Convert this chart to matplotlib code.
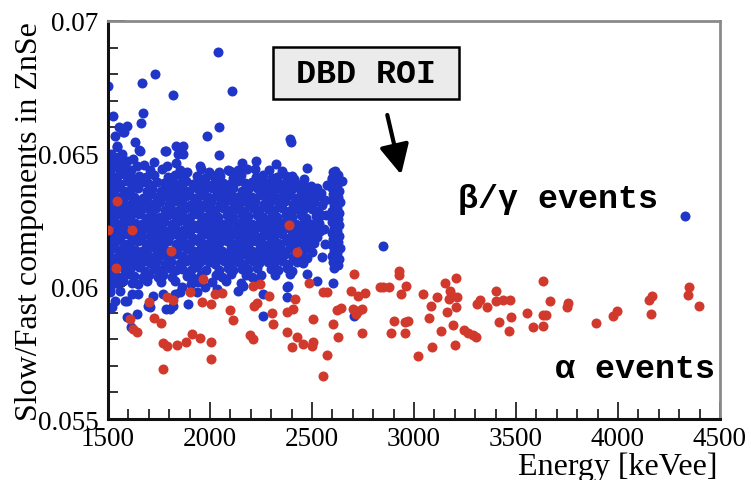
""" Pulse-shape discrimination in ZnSe: slow/fast ratio vs energy. """

import matplotlib
matplotlib.use('Agg')
import matplotlib.pyplot as plt
from matplotlib.patches import Rectangle
from matplotlib.ticker import MultipleLocator, FixedLocator, FixedFormatter

# ---- data: (energy [keVee], slow/fast ratio) ----

# beta/gamma band, sparse upper fringe and stragglers
blue_upper = [
    (2041, .06884), (1730, .06800), (1665, .06765), (1502, .06756), (1820, .06721),
    (2106, .06737), (1523, .06643), (1670, .06652), (1660, .06615), (1555, .06599),
    (1595, .06603), (1578, .06580), (1534, .06568), (2046, .06599), (1984, .06568),
    (1546, .06530), (1632, .06545), (1784, .06511), (1833, .06530), (1866, .06530),
    (1866, .06499), (2046, .06495), (2392, .06555), (2396, .06543), (1652, .06514),
    (1725, .06467), (1676, .06457), (1951, .06455), (2155, .06465), (2225, .06473),
    (2220, .06442), (2324, .06461), (2131, .06430), (2400, .06417), (2461, .06404),
    (1886, .06430), (1996, .06430), (2046, .06430), (2090, .06440), (2139, .06440),
    (2531, .06357), (1575, .06580), (1543, .06524), (1657, .06511), (1779, .06511),
    (1845, .06499), (1788, .06452), (1833, .06465), (2474, .06445), (2302, .06407),
    (1518, .06492), (1526, .06461), (1567, .06499), (1592, .06473), (1624, .06480),
    (1510, .06430), (1506, .06472), (1530, .06468), (1514, .06500), (1547, .06485),
    (1562, .06460), (1585, .06455),
]

# beta/gamma band, dense core (row by row, top to bottom)
blue_core = [
    (1504, .06446), (1531, .06452), (1552, .06441), (1578, .06449), (1611, .06438),
    (1640, .06455), (1706, .06440), (1763, .06444), (1852, .06437), (1958, .06442),
    (2098, .06436), (2183, .06441), (2288, .06437), (2352, .06434),

    (1510, .06418), (1546, .06411), (1580, .06422), (1617, .06409), (1652, .06417),
    (1688, .06413), (1725, .06420), (1794, .06412), (1830, .06419), (1869, .06408),
    (1935, .06416), (1975, .06410), (2012, .06421), (2048, .06414), (2115, .06409),
    (2150, .06418), (2226, .06412), (2262, .06420), (2330, .06411), (2372, .06416),
    (2410, .06406),

    (1521, .06394), (1561, .06386), (1594, .06397), (1632, .06388), (1667, .06392),
    (1700, .06384), (1740, .06395), (1774, .06389), (1813, .06393), (1846, .06385),
    (1884, .06396), (1919, .06387), (1953, .06391), (1993, .06383), (2026, .06394),
    (2064, .06390), (2097, .06386), (2137, .06397), (2170, .06388), (2206, .06393),
    (2245, .06385), (2277, .06391), (2316, .06396), (2350, .06387), (2387, .06392),
    (2424, .06384), (2458, .06390), (2497, .06379), (2527, .06372),

    (1508, .06362), (1539, .06369), (1579, .06360), (1615, .06367), (1646, .06371),
    (1689, .06361), (1718, .06366), (1760, .06358), (1795, .06370), (1826, .06363),
    (1868, .06367), (1899, .06359), (1940, .06368), (1971, .06362), (2012, .06370),
    (2043, .06364), (2084, .06359), (2115, .06369), (2156, .06361), (2187, .06366),
    (2228, .06371), (2259, .06360), (2300, .06365), (2331, .06369), (2372, .06362),
    (2403, .06367), (2444, .06358), (2475, .06364), (2516, .06360), (2545, .06352),

    (1526, .06343), (1557, .06336), (1598, .06345), (1629, .06338), (1670, .06334),
    (1703, .06344), (1739, .06337), (1777, .06342), (1810, .06335), (1850, .06346),
    (1881, .06339), (1922, .06333), (1955, .06343), (1991, .06337), (2029, .06341),
    (2062, .06334), (2101, .06345), (2135, .06338), (2173, .06342), (2204, .06335),
    (2247, .06344), (2280, .06336), (2314, .06341), (2353, .06339), (2385, .06346),
    (2421, .06333), (2460, .06342), (2494, .06336), (2533, .06340),

    (1503, .06318), (1543, .06311), (1575, .06320), (1616, .06313), (1648, .06309),
    (1687, .06319), (1723, .06312), (1755, .06317), (1797, .06310), (1830, .06321),
    (1863, .06314), (1903, .06308), (1935, .06318), (1975, .06312), (2007, .06316),
    (2047, .06310), (2080, .06320), (2119, .06313), (2151, .06317), (2190, .06309),
    (2223, .06319), (2264, .06311), (2295, .06316), (2336, .06313), (2367, .06320),
    (2407, .06309), (2440, .06317), (2478, .06312), (2512, .06318), (2548, .06306),

    (1520, .06293), (1562, .06287), (1592, .06296), (1634, .06285), (1665, .06291),
    (1705, .06288), (1737, .06295), (1779, .06286), (1808, .06292), (1848, .06289),
    (1883, .06297), (1924, .06284), (1952, .06290), (1995, .06293), (2024, .06286),
    (2066, .06295), (2099, .06288), (2138, .06291), (2168, .06285), (2211, .06294),
    (2242, .06287), (2282, .06292), (2313, .06289), (2355, .06296), (2386, .06284),
    (2426, .06291), (2457, .06287), (2499, .06293), (2529, .06285),

    (1506, .06262), (1538, .06269), (1580, .06260), (1611, .06267), (1651, .06271),
    (1684, .06259), (1722, .06266), (1756, .06262), (1794, .06270), (1832, .06261),
    (1864, .06267), (1904, .06263), (1936, .06271), (1977, .06260), (2010, .06266),
    (2041, .06262), (2085, .06269), (2113, .06261), (2157, .06267), (2188, .06264),
    (2229, .06270), (2258, .06260), (2302, .06266), (2330, .06263), (2374, .06269),
    (2402, .06261), (2446, .06267), (2473, .06259), (2518, .06264), (2544, .06268),

    (1524, .06243), (1556, .06236), (1597, .06245), (1630, .06238), (1668, .06234),
    (1702, .06244), (1741, .06237), (1775, .06241), (1812, .06235), (1847, .06246),
    (1885, .06239), (1920, .06233), (1956, .06243), (1990, .06236), (2028, .06241),
    (2065, .06234), (2100, .06245), (2134, .06238), (2172, .06242), (2208, .06235),
    (2243, .06244), (2279, .06237), (2317, .06241), (2352, .06239), (2389, .06245),
    (2422, .06234), (2461, .06242), (2493, .06236), (2532, .06240),

    (1502, .06218), (1542, .06211), (1576, .06220), (1614, .06213), (1650, .06209),
    (1688, .06219), (1720, .06212), (1758, .06217), (1796, .06210), (1828, .06221),
    (1866, .06214), (1900, .06208), (1938, .06218), (1972, .06212), (2011, .06216),
    (2046, .06210), (2082, .06220), (2118, .06213), (2154, .06217), (2186, .06209),
    (2227, .06219), (2263, .06211), (2298, .06216), (2334, .06213), (2370, .06220),
    (2404, .06209), (2443, .06217), (2476, .06212), (2514, .06218), (2541, .06210),

    (1522, .06193), (1560, .06187), (1595, .06196), (1633, .06185), (1666, .06191),
    (1704, .06188), (1738, .06195), (1776, .06186), (1811, .06192), (1849, .06189),
    (1882, .06197), (1918, .06184), (1954, .06190), (1994, .06193), (2027, .06186),
    (2063, .06195), (2098, .06188), (2136, .06191), (2171, .06185), (2209, .06194),
    (2244, .06187), (2281, .06192), (2315, .06189), (2351, .06196), (2388, .06184),
    (2425, .06191), (2459, .06187), (2496, .06193), (2526, .06186),

    (1507, .06162), (1540, .06169), (1578, .06160), (1612, .06167), (1649, .06171),
    (1686, .06159), (1724, .06166), (1757, .06162), (1793, .06170), (1831, .06161),
    (1867, .06167), (1902, .06163), (1939, .06171), (1974, .06160), (2008, .06166),
    (2044, .06162), (2083, .06169), (2116, .06161), (2155, .06167), (2189, .06164),
    (2226, .06170), (2260, .06160), (2299, .06166), (2332, .06163), (2371, .06169),
    (2406, .06161), (2442, .06167), (2479, .06159), (2511, .06165),

    (1525, .06143), (1558, .06136), (1596, .06145), (1631, .06138), (1669, .06134),
    (1701, .06144), (1742, .06137), (1773, .06141), (1814, .06135), (1845, .06146),
    (1886, .06139), (1921, .06133), (1957, .06143), (1992, .06136), (2030, .06141),
    (2061, .06134), (2102, .06145), (2133, .06138), (2174, .06142), (2207, .06135),
    (2246, .06144), (2278, .06137), (2318, .06141), (2349, .06139), (2390, .06145),
    (2423, .06134), (2462, .06142), (2498, .06131),

    (1504, .06118), (1543, .06111), (1577, .06120), (1613, .06113), (1651, .06109),
    (1685, .06119), (1723, .06112), (1759, .06117), (1795, .06110), (1829, .06121),
    (1865, .06114), (1901, .06108), (1937, .06118), (1973, .06112), (2009, .06116),
    (2048, .06110), (2081, .06120), (2117, .06113), (2153, .06117), (2190, .06109),
    (2225, .06119), (2262, .06111), (2297, .06116), (2335, .06113), (2368, .06120),
    (2408, .06109), (2441, .06117), (2474, .06108),

    (1521, .06093), (1559, .06087), (1593, .06096), (1632, .06085), (1667, .06091),
    (1706, .06088), (1739, .06095), (1778, .06086), (1809, .06092), (1851, .06089),
    (1880, .06097), (1923, .06084), (1953, .06090), (1996, .06093), (2025, .06086),
    (2067, .06095), (2097, .06088), (2139, .06091), (2169, .06085), (2210, .06094),
    (2241, .06087), (2283, .06092), (2312, .06089), (2354, .06096), (2384, .06084),
    (2428, .06091), (2455, .06087),

    (1505, .06062), (1539, .06069), (1581, .06060), (1610, .06067), (1652, .06071),
    (1683, .06059), (1725, .06066), (1755, .06062), (1797, .06070), (1833, .06061),
    (1862, .06067), (1906, .06063), (1934, .06071), (1978, .06060), (2043, .06062),
    (2086, .06069), (2112, .06061), (2158, .06067), (2185, .06064), (2231, .06070),
    (2300, .06066), (2333, .06063), (2376, .06069), (2401, .06058),

    (1523, .06043), (1557, .06036), (1599, .06045), (1628, .06038), (1670, .06034),
    (1700, .06044), (1744, .06037), (1772, .06041), (1815, .06035), (1887, .06039),
    (1919, .06033), (1958, .06043), (2031, .06041), (2060, .06034), (2104, .06045),
    (2175, .06042), (2206, .06035), (2248, .06044), (2320, .06041), (2391, .06045),

    (1503, .06018), (1540, .06011), (1574, .06020), (1617, .06013), (1646, .06009),
    (1690, .06019), (1760, .06017), (1830, .06021), (1905, .06008), (1940, .06018),
    (2012, .06016), (2080, .06020), (2150, .06012), (2230, .06019), (2380, .06002),
]

# 2615 keV gamma line (208Tl) and points near it
blue_line = [
    (2612, .06436), (2645, .06398), (2596, .06404),
    (2603, .06432), (2626, .06421), (2598, .06410), (2631, .06402), (2606, .06391),
    (2624, .06380), (2597, .06369), (2633, .06360), (2604, .06349), (2628, .06338),
    (2600, .06327), (2635, .06318), (2607, .06306), (2622, .06296), (2596, .06285),
    (2630, .06275), (2605, .06264), (2627, .06253), (2599, .06242), (2634, .06232),
    (2608, .06221), (2621, .06210), (2597, .06200), (2632, .06189), (2603, .06178),
    (2629, .06168), (2600, .06157), (2636, .06146), (2606, .06135), (2623, .06124),
    (2598, .06114), (2631, .06103), (2604, .06092), (2627, .06081), (2610, .06070),
    (2565, .06325), (2570, .06270), (2558, .06215), (2575, .06380), (2562, .06160),
    (2548, .06110), (2604, .06012),
]

# beta/gamma events leaking below the band, plus high-energy strays
blue_lower = [
    (1510, .05977), (1502, .05914), (1534, .05946), (1559, .05983), (1592, .05946),
    (1616, .05971), (1592, .05883), (1611, .05845), (1641, .05895), (1649, .05971),
    (1698, .05927), (1722, .05964), (1771, .05971), (1804, .05914), (1784, .05914),
    (1828, .05971), (1861, .05996), (1935, .05977), (1975, .05996), (2036, .05990),
    (2139, .05983), (2163, .06002), (2261, .05889), (2261, .05971), (2376, .05996),
    (2379, .05958), (2474, .06046), (2523, .06021), (2706, .05887), (1518, .05921),
    (1583, .05946), (1706, .05921), (1820, .05927), (1894, .05933), (1853, .05977),
    (1510, .05990), (2848, .06152), (4328, .06265),
]

# alpha events
red_alpha = [
    (1546, .06320), (1502, .06212), (1616, .06212), (2389, .06231), (1809, .06134),
    (2425, .06130), (1539, .06068), (1964, .06027),
    (1703, .05942), (1788, .05958), (1820, .05949), (1902, .05977), (1959, .05942),
    (2003, .05933), (2025, .05971), (2057, .05975), (2098, .05912), (2114, .05874),
    (2216, .05927), (2229, .05939), (2212, .06000), (2245, .06008), (2291, .05964),
    (2302, .05899), (2307, .05858), (2196, .05816), (2209, .05801), (2379, .05902),
    (2408, .05914), (2417, .05952), (2379, .05829), (2428, .05808), (2400, .05770),
    (2457, .05782), (2498, .05774), (2506, .05789), (2506, .05877), (2487, .06012),
    (2572, .05741), (2555, .05663), (2552, .05977), (2575, .05977), (2601, .05858),
    (2624, .05911), (2640, .05917), (2629, .05808), (2706, .06046), (2690, .05983),
    (2727, .05964), (2760, .05975), (2702, .05914), (2727, .05908), (2743, .05914),
    (2716, .05895), (2743, .05824), (2833, .05996),
    (1608, .05877), (1624, .05839), (1641, .05829), (1725, .05879), (1758, .05862),
    (1768, .05786), (1788, .05776), (1836, .05779), (1882, .05789), (1910, .05819),
    (1951, .05804), (2003, .05791), (2003, .05726), (1768, .05688),
    (2928, .06059), (2928, .06042), (2850, .05996), (2879, .05996), (2961, .06002),
    (2936, .05971), (2902, .05870), (2886, .05824), (2956, .05864), (2972, .05870),
    (2956, .05826), (3018, .05736), (3042, .05971), (3083, .05927), (3114, .05961),
    (3072, .05879), (3130, .05831), (3088, .05771), (3153, .06012), (3176, .05983),
    (3188, .05964), (3173, .05952), (3209, .05961), (3206, .06030), (3206, .05924),
    (3160, .05904), (3193, .05854), (3201, .05780), (3245, .05836), (3266, .05826),
    (3291, .05816), (3304, .05810), (3307, .05933), (3324, .05949), (3359, .05921),
    (3402, .05983), (3402, .05946), (3435, .05948), (3471, .05948), (3418, .05864),
    (3467, .05832), (3474, .05885), (3552, .05899), (3585, .05848), (3634, .06021),
    (3667, .05946), (3634, .05892), (3647, .05892), (3630, .05852), (3753, .05937),
    (3751, .05921), (3892, .05862), (3974, .05889), (3993, .05908), (4153, .05949),
    (4165, .05964), (4162, .05895), (4349, .05996), (4345, .05967), (4399, .05927),
]

x_ticks = [1500, 2000, 2500, 3000, 3500, 4000, 4500]
y_ticks = [0.055, 0.06, 0.065, 0.07]
y_tick_labels = ['0.055', '0.06', '0.065', '0.07']

BLUE = '#1f36c9'
RED = '#d2392d'

fig = plt.figure(figsize=(7.51, 4.81), dpi=100)
ax = fig.add_axes([0.1438, 0.1268, 0.8149, 0.8275])

blue = blue_upper + blue_core + blue_line + blue_lower
ax.scatter([p[0] for p in blue], [p[1] for p in blue], s=52, c=BLUE,
           linewidths=0, zorder=2)
ax.scatter([p[0] for p in red_alpha], [p[1] for p in red_alpha], s=52, c=RED,
           linewidths=0, zorder=3)

ax.set_xlim(1500, 4500)
ax.set_ylim(0.055, 0.07)

# ROOT-like frame: ticks inside, only on left/bottom
ax.xaxis.set_major_locator(FixedLocator(x_ticks))
ax.xaxis.set_minor_locator(MultipleLocator(100))
ax.yaxis.set_major_locator(FixedLocator(y_ticks))
ax.yaxis.set_major_formatter(FixedFormatter(y_tick_labels))
ax.yaxis.set_minor_locator(MultipleLocator(0.001))
ax.tick_params(which='both', direction='in', top=False, right=False,
               color='#333333', width=1.4, labelsize=19.5)
ax.tick_params(axis='x', pad=5)
ax.tick_params(axis='y', pad=7)
ax.tick_params(which='major', length=12)
ax.tick_params(which='minor', length=7)
for lab in ax.get_xticklabels() + ax.get_yticklabels():
    lab.set_family('Liberation Serif')

for side in ['left', 'bottom']:
    ax.spines[side].set_linewidth(2.2)
    ax.spines[side].set_color('#111111')
for side in ['top', 'right']:
    ax.spines[side].set_linewidth(2.0)
    ax.spines[side].set_color('#8a8a8a')

fig.text(1 - 33 / 751, 1 - 475 / 481, 'Energy [keVee]', ha='right', va='baseline',
         family='Liberation Serif', fontsize=23)
fig.text(30 / 751, 1 - 22 / 481, 'Slow/Fast components in ZnSe', rotation=90,
         ha='center', va='top', family='Liberation Serif', fontsize=23)

mono = ['Liberation Mono', 'DejaVu Sans Mono']

# DBD region-of-interest label
ax.add_patch(Rectangle((0.2696, 0.804), 0.3039, 0.131, transform=ax.transAxes,
                       facecolor='#ebebeb', edgecolor='black', lw=1.8, zorder=4))
ax.text(0.4216, 0.8693, 'DBD ROI', transform=ax.transAxes, ha='center',
        va='center', family=mono, weight='bold', fontsize=24, zorder=5)
ax.annotate('', xy=(2940, 0.06411), xytext=(2866, 0.06656),
            arrowprops=dict(arrowstyle='-|>,head_length=0.9,head_width=0.45',
                            lw=3, color='black', mutation_scale=20), zorder=5)

ax.text(0.735, 0.553, 'β/γ events', transform=ax.transAxes, ha='center',
        va='center', family=mono, weight='bold', fontsize=24)
ax.text(0.992, 0.126, 'α events', transform=ax.transAxes, ha='right',
        va='center', family=mono, weight='bold', fontsize=24)

fig.savefig('out.png', dpi=100)
